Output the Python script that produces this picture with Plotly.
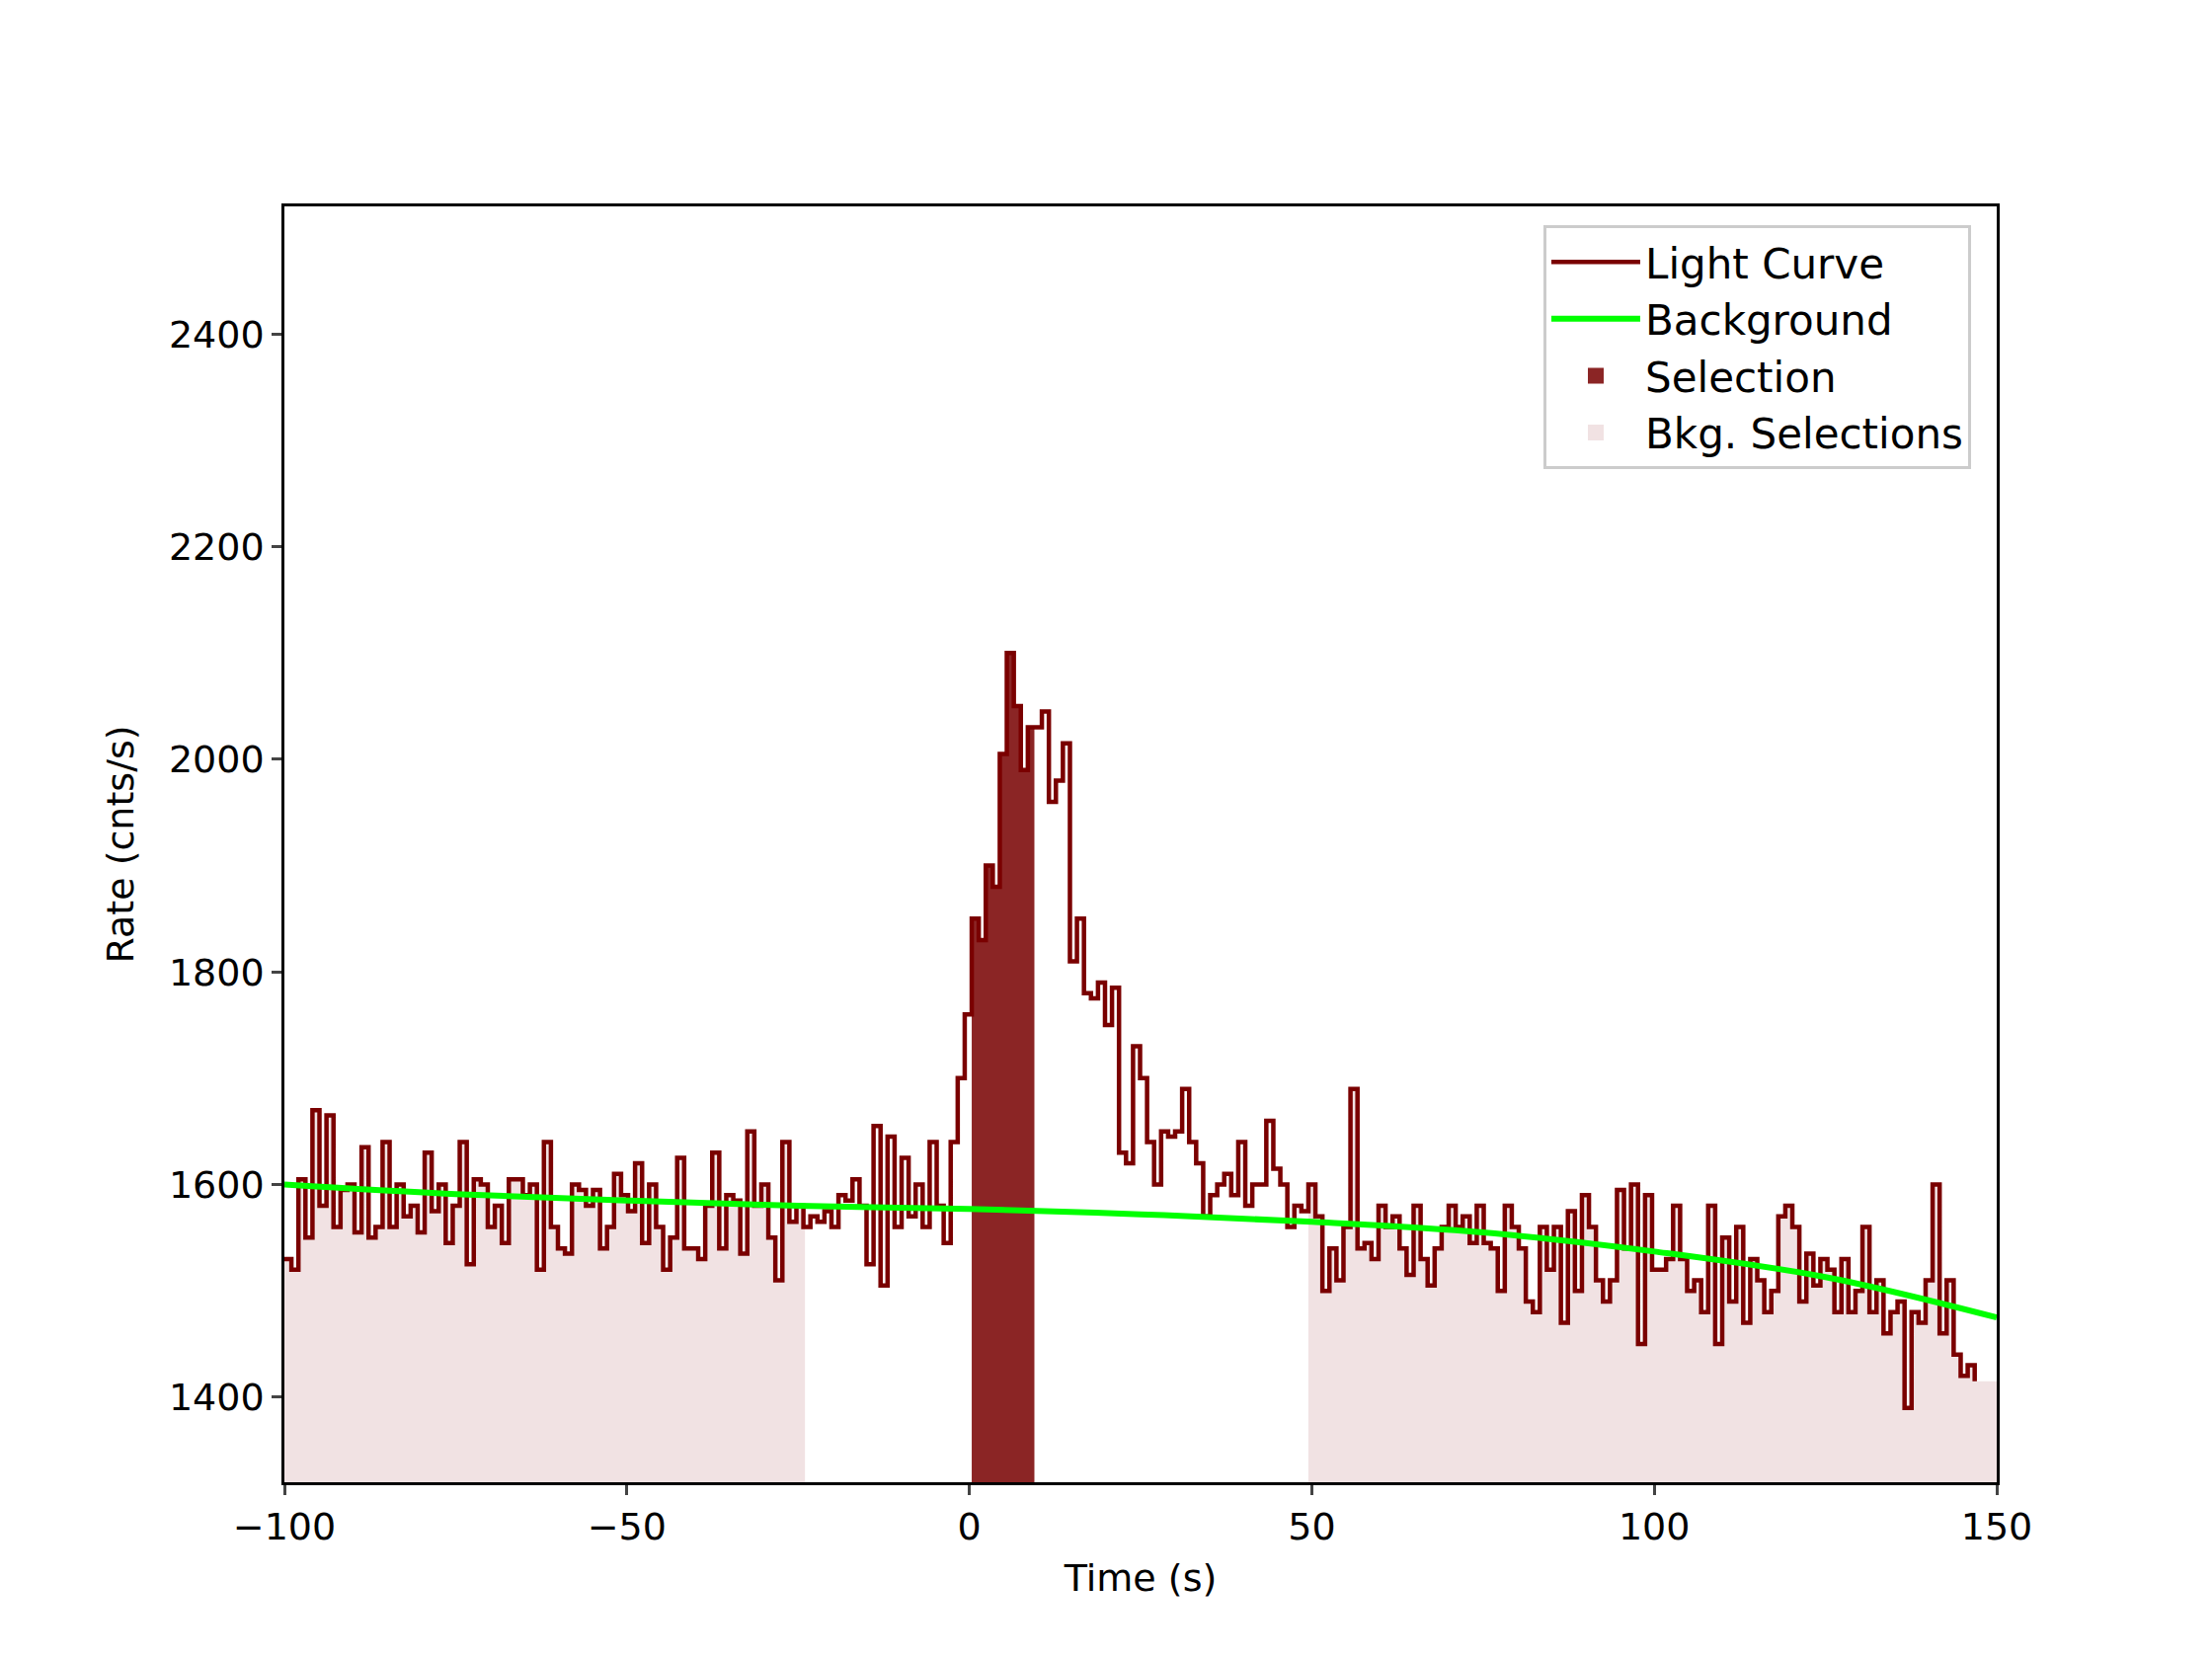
import numpy as np
import plotly.graph_objects as go

# light curve, 1.024 s bins starting at -100 s
bin_width = 1.024
t_start = -100.0
rate = [
    1530, 1520, 1605, 1550, 1670, 1580, 1665, 1560, 1595, 1600, 1555, 1635,
    1550, 1560, 1640, 1560, 1600, 1570, 1580, 1555, 1630, 1575, 1600, 1545,
    1580, 1640, 1525, 1605, 1600, 1560, 1580, 1545, 1605, 1605, 1590, 1600,
    1520, 1640, 1560, 1540, 1535, 1600, 1595, 1580, 1595, 1540, 1560, 1610,
    1590, 1575,
    1620, 1545, 1600, 1560, 1520, 1550, 1625, 1540, 1540, 1530, 1580, 1630,
    1540, 1590, 1585, 1535, 1650, 1580, 1600, 1550, 1510, 1640, 1565, 1580,
    1560, 1570,
    1565, 1575, 1560, 1590, 1585, 1605, 1580, 1525, 1655, 1505, 1645, 1560,
    1625, 1570, 1600, 1560, 1640, 1580, 1545, 1640, 1700, 1760,
    1850, 1830, 1900, 1880, 2005, 2100, 2050, 1990, 2030, 2030, 2045, 1960,
    1980, 2015, 1810, 1850, 1780, 1775, 1790, 1750, 1785, 1630, 1620, 1730,
    1700, 1640, 1600, 1650, 1645, 1650, 1690, 1640, 1620, 1570, 1590, 1600,
    1610, 1590, 1640, 1580, 1600, 1600, 1660, 1615, 1600, 1560, 1580, 1575,
    1600, 1570,
    1500, 1540, 1510, 1560, 1690, 1540, 1545, 1530, 1580, 1560, 1570, 1540,
    1515, 1580, 1530, 1505, 1540, 1560, 1580, 1560, 1570, 1545, 1580, 1545,
    1540, 1500, 1580, 1560, 1540, 1490, 1480, 1560, 1520, 1560, 1470, 1575,
    1500, 1590, 1560, 1510, 1490, 1510, 1595, 1540, 1600, 1450, 1590, 1520,
    1520, 1530, 1580, 1530, 1500, 1510, 1480, 1580, 1450, 1550, 1490, 1560,
    1470, 1530, 1510, 1480, 1500, 1570, 1580, 1560, 1490, 1535, 1505, 1530,
    1520, 1480, 1530, 1480, 1500, 1560, 1480, 1510, 1460, 1480, 1490, 1390,
    1480, 1470, 1510, 1600, 1460, 1510, 1440, 1420, 1430, 1415,
]
time = t_start + bin_width * np.arange(len(rate))
rate = np.array(rate)

# background model knots
bkg_time = [-100, -75, -50, -25, 0, 25, 50, 75, 100, 125, 150]
bkg_rate = [1600, 1591, 1585, 1580, 1577, 1572, 1565, 1555, 1537, 1513, 1475]

src_range = (0.0, 9.5)
bkg_ranges = [(-100.0, -24.0), (49.0, 150.0)]

lc_color = "#7a0000"
bkg_fill = "rgba(175,95,100,0.18)"
font = dict(family="DejaVu Sans", size=38, color="black")

fig = go.Figure()

for lo, hi in bkg_ranges:
    m = (time >= lo - 1e-9) & (time < hi)
    fig.add_trace(go.Scatter(
        x=np.append(time[m], hi), y=np.append(rate[m], rate[m][-1]),
        mode="lines", line_shape="hv", line_width=0,
        fill="tozeroy", fillcolor=bkg_fill,
        showlegend=False, hoverinfo="skip"))

m = (time >= src_range[0] - 0.5) & (time < src_range[1])
xs = np.clip(np.append(time[m], src_range[1]), src_range[0], None)
fig.add_trace(go.Scatter(
    x=xs, y=np.append(rate[m], rate[m][-1]),
    mode="lines", line_shape="hv", line_width=0,
    fill="tozeroy", fillcolor="#8b2525", showlegend=False))

fig.add_trace(go.Scatter(x=time, y=rate, mode="lines", line_shape="hv",
                         line=dict(color=lc_color, width=4.5),
                         name="Light Curve"))
fig.add_trace(go.Scatter(x=bkg_time, y=bkg_rate, mode="lines",
                         line=dict(color="#00ff00", width=6, shape="spline"),
                         name="Background"))

# legend-only proxies for the filled areas
fig.add_trace(go.Scatter(x=[None], y=[None], mode="markers",
                         marker=dict(symbol="square", size=34, color="#8b2525"),
                         name="Selection"))
fig.add_trace(go.Scatter(x=[None], y=[None], mode="markers",
                         marker=dict(symbol="square", size=34, color=bkg_fill),
                         name="Bkg. Selections"))

axis = dict(showgrid=False, zeroline=False, showline=True, linecolor="black",
            linewidth=2.5, mirror=True, ticks="outside", ticklen=10,
            tickwidth=2.5, tickfont=font)
fig.update_layout(
    width=2240, height=1680, paper_bgcolor="white", plot_bgcolor="white",
    margin=dict(l=280, r=226, t=201, b=187),
    font=font,
    xaxis=dict(axis, range=[-100, 150], dtick=50,
               title=dict(text="Time (s)", font=font, standoff=18)),
    yaxis=dict(axis, range=[1320, 2520], dtick=200,
               title=dict(text="Rate (cnts/s)", font=font, standoff=24)),
    legend=dict(x=0.985, y=0.985, xanchor="right", yanchor="top",
                bordercolor="#cccccc", borderwidth=3, bgcolor="white",
                font=dict(family="DejaVu Sans", size=42), itemwidth=90,
                tracegroupgap=14),
)

fig.write_html("out.html")
